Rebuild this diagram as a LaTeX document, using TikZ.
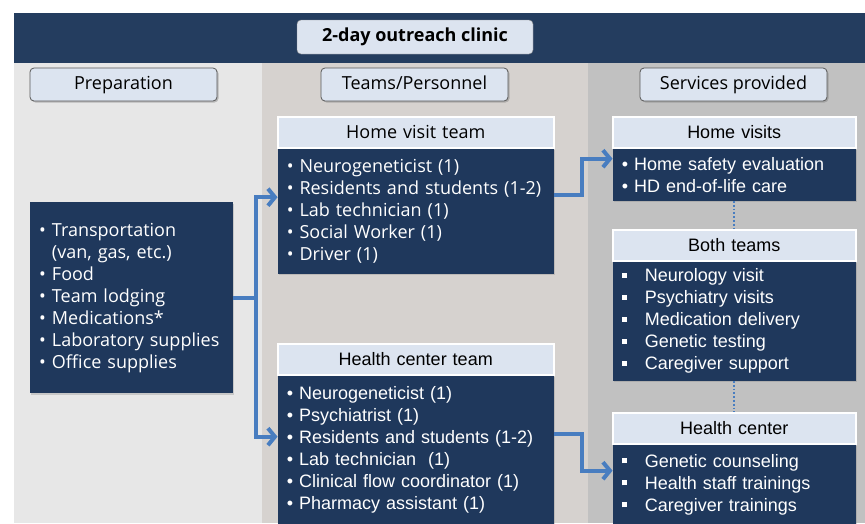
\documentclass[tikz,border=0pt]{standalone}
\usepackage{fontspec}
\setmainfont{Open Sans}
\newfontfamily\arialf{Liberation Sans}
\usetikzlibrary{positioning,arrows.meta,shadows}
\definecolor{navy}{RGB}{31,56,92}
\definecolor{bannerblue}{RGB}{36,61,95}
\definecolor{paleblue}{RGB}{220,228,240}
\definecolor{colprep}{RGB}{231,231,231}
\definecolor{colteam}{RGB}{214,210,207}
\definecolor{colserv}{RGB}{193,193,193}
\definecolor{flowblue}{RGB}{72,125,192}
\newcommand{\sqb}{\makebox[23pt][l]{\rule[4pt]{5pt}{5pt}}}
\newcommand{\hang}{\hphantom{• }}

\begin{document}
\begin{tikzpicture}[x=1pt, y=-1pt,
    font={\fontsize{18}{22}\selectfont}]
  % styles of boxes and connectors
  \tikzset{
    clinic/.style={fill=paleblue, draw=black!45, rounded corners=4pt, minimum width=236pt,
      minimum height=34pt, inner sep=0pt, text height=13pt, text depth=4pt,
      font={\bfseries\fontsize{18}{22}\selectfont}},
    colhead/.style={fill=paleblue, draw=black!65, line width=0.8pt, rounded corners=4pt,
      minimum width=187pt, minimum height=33pt, inner sep=0pt, text height=13pt, text depth=4pt,
      drop shadow={shadow xshift=1.5pt, shadow yshift=-1.5pt, opacity=0.45}},
    boxhead/.style={fill=paleblue, draw=white, line width=1.5pt, minimum height=31pt,
      inner sep=0pt, align=center, anchor=north west},
    boxbody/.style={fill=navy, text=white, align=left, inner xsep=9pt, inner ysep=0pt,
      drop shadow={shadow xshift=1pt, shadow yshift=-1.5pt, opacity=0.3}},
    teamwidth/.style={minimum width=276pt, text width=258pt},
    servwidth/.style={minimum width=243pt, text width=225pt},
    arial/.style={font={\arialf\fontsize{18}{22}\selectfont}},
    flowline/.style={draw=flowblue, line width=4pt},
    flow/.style={flowline, -{Straight Barb[length=7pt, width=17pt]}},
    link/.style={draw=flowblue, line width=1.8pt, dotted}
  }
  \useasboundingbox (0,0) rectangle (865,523);
  % columns and banner
  \fill[colprep] (14,63) rectangle (262,523);
  \fill[colteam] (262,63) rectangle (588,523);
  \fill[colserv] (588,63) rectangle (865,523);
  \fill[bannerblue] (14,13) rectangle (865,63);
  \node[clinic] (clinic) at (415,37) {2-day outreach clinic};
  % column titles
  \node[colhead] (prephead) at (123.5,84.5) {Preparation};
  \node[colhead] (teamhead) at (414.5,84.5) {Teams/Personnel};
  \node[colhead] (servhead) at (733.5,84.5) {Services provided};
  % column "Preparation"
  \node[boxbody, anchor=north west, minimum width=203pt, text width=185pt, minimum height=191pt]
    (prep) at (30,202) {• Transportation\\ \hang(van, gas, etc.)\\ • Food\\ • Team lodging\\
    • Medications*\\ • Laboratory supplies\\ • Office supplies};
  % column "Teams/Personnel"
  \node[boxhead, teamwidth] (hvt) at (277,116) {Home visit team};
  \node[boxbody, teamwidth, minimum height=125pt, below=0pt of hvt] (hvtb)
    {• Neurogeneticist (1)\\ • Residents and students (1-2)\\ • Lab technician (1)\\
    • Social Worker (1)\\ • Driver (1)};
  \node[boxhead, teamwidth, arial] (hct) at (277,343) {Health center team};
  \node[boxbody, teamwidth, arial, minimum height=148pt, below=0pt of hct] (hctb)
    {• Neurogeneticist (1)\\ • Psychiatrist (1)\\ • Residents and students (1-2)\\
    • Lab technician~ (1)\\ • Clinical flow coordinator (1)\\ • Pharmacy assistant (1)};
  % column "Services provided"
  \node[boxhead, servwidth, arial] (hv) at (612,116) {Home visits};
  \node[boxbody, servwidth, arial, minimum height=52pt, below=0pt of hv] (hvb)
    {• Home safety evaluation\\ • HD end-of-life care};
  \node[boxhead, servwidth, arial] (both) at (612,229) {Both teams};
  \node[boxbody, servwidth, arial, minimum height=119pt, below=0pt of both] (bothb)
    {\sqb Neurology visit\\ \sqb Psychiatry visits\\ \sqb Medication delivery\\
    \sqb Genetic testing\\ \sqb Caregiver support};
  \node[boxhead, servwidth, arial] (hc) at (612,412) {Health center};
  \node[boxbody, servwidth, arial, minimum height=80pt, below=0pt of hc] (hcb)
    {\sqb Genetic counseling\\ \sqb Health staff trainings\\ \sqb Caregiver trainings};
  % connectors
  \coordinate[right=23pt of prep.east] (split);
  \draw[flowline] (prep.east) -- (split);
  \draw[flow] (split) |- ([yshift=14pt]hvtb.west);
  \draw[flow] (split) |- ([yshift=13pt]hctb.west);
  \draw[flow] ([yshift=16pt]hvtb.east) -- ++(28,0) |- ([yshift=16pt]hvb.west);
  \draw[flow] ([yshift=16pt]hctb.east) -- ++(28,0) |- ([yshift=14pt]hcb.west);
  \draw[link] (hvb.south) -- (both.north);
  \draw[link] (bothb.south) -- (hc.north);
\end{tikzpicture}
\end{document}
